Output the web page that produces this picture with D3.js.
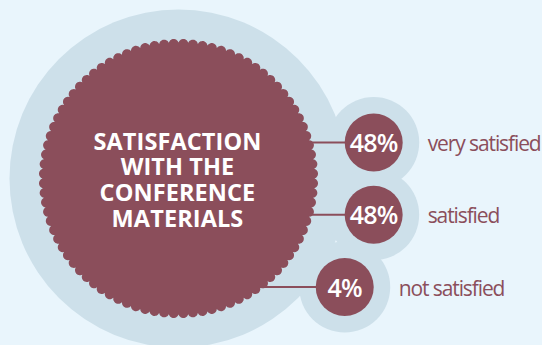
<!DOCTYPE html>
<html>
<head>
<meta charset="utf-8">
<script src="https://cdn.jsdelivr.net/npm/d3@7"></script>
<style>
  html, body { margin: 0; padding: 0; background: #e9f5fc; }
  svg { display: block; }
</style>
</head>
<body>
<div id="chart"></div>
<script>
// data
const categories = ["very satisfied", "satisfied", "not satisfied"];
const values = [48, 48, 4];
const titleLines = ["SATISFACTION", "WITH THE", "CONFERENCE", "MATERIALS"];

const width = 542;
const height = 345;
const maroon = "#8b4e5b";
const halo = "#cde0ea";

const cx = 178.5, cy = 178.5;
const bigHaloR = 169;
const baseR = 136;      // scallop valley radius
const bumpH = 3.6;      // scallop height
const bumps = 88;
const orbitR = 198.5;   // small circles sit on this ring
const smallR = 29;
const smallHaloR = 45.5;

const svg = d3.select("#chart")
              .append("svg")
              .attr("width", width)
              .attr("height", height);

svg.append("rect")
   .attr("width", width)
   .attr("height", height)
   .attr("fill", "#e9f5fc");

// vertical placement of the three answers
const y = d3.scalePoint().domain(categories).range([142.5, 287]);
const xOnOrbit = yy => cx + Math.sqrt(orbitR * orbitR - (yy - cy) * (yy - cy));

const items = categories.map((c, i) => ({
  label: c,
  value: values[i],
  y: y(c),
  x: xOnOrbit(y(c))
}));

// halos
svg.append("circle")
   .attr("cx", cx).attr("cy", cy).attr("r", bigHaloR)
   .attr("fill", halo);

svg.selectAll("circle.halo")
   .data(items)
   .enter()
   .append("circle")
   .attr("class", "halo")
   .attr("cx", d => d.x)
   .attr("cy", d => d.y)
   .attr("r", smallHaloR)
   .attr("fill", halo);

// connectors
svg.selectAll("line.link")
   .data(items)
   .enter()
   .append("line")
   .attr("class", "link")
   .attr("x1", d => cx + Math.sqrt(baseR * baseR - (d.y - cy) * (d.y - cy)) - 2)
   .attr("x2", d => d.x - smallR + 1)
   .attr("y1", d => d.y)
   .attr("y2", d => d.y)
   .attr("stroke", maroon)
   .attr("stroke-width", 1.8);

// scalloped main circle
const steps = bumps * 12;
const pts = d3.range(steps + 1).map(k => {
  const a = (k / steps) * 2 * Math.PI;
  const r = baseR + bumpH * Math.pow(Math.abs(Math.sin(bumps * a / 2)), 0.6);
  return [cx + r * Math.cos(a), cy + r * Math.sin(a)];
});
svg.append("path")
   .attr("d", d3.line()(pts) + "Z")
   .attr("fill", maroon);

// title
svg.append("text")
   .attr("text-anchor", "middle")
   .attr("font-family", "'Open Sans', sans-serif")
   .attr("font-weight", 700)
   .attr("font-size", 23.5)
   .attr("letter-spacing", 0.1)
   .attr("fill", "#fff")
   .selectAll("tspan")
   .data(titleLines)
   .enter()
   .append("tspan")
   .attr("x", 177.5)
   .attr("y", (d, i) => 149.5 + i * 25.8)
   .text(d => d);

// small circles
svg.selectAll("circle.dot")
   .data(items)
   .enter()
   .append("circle")
   .attr("class", "dot")
   .attr("cx", d => d.x)
   .attr("cy", d => d.y)
   .attr("r", smallR)
   .attr("fill", maroon);

svg.selectAll("text.pct")
   .data(items)
   .enter()
   .append("text")
   .attr("class", "pct")
   .attr("x", d => d.x)
   .attr("y", d => d.y + 9.5)
   .attr("text-anchor", "middle")
   .attr("font-family", "'Open Sans', sans-serif")
   .attr("font-weight", 600)
   .attr("font-size", 25)
   .attr("letter-spacing", -0.8)
   .attr("fill", "#fff")
   .text(d => d.value + "%");

svg.selectAll("text.lbl")
   .data(items)
   .enter()
   .append("text")
   .attr("class", "lbl")
   .attr("x", d => d.x + smallR + 25)
   .attr("y", d => d.y + 8.5)
   .attr("font-family", "'Open Sans', sans-serif")
   .attr("font-size", 21)
   .attr("letter-spacing", -1.1)
   .attr("fill", maroon)
   .text(d => d.label);
</script>
</body>
</html>
